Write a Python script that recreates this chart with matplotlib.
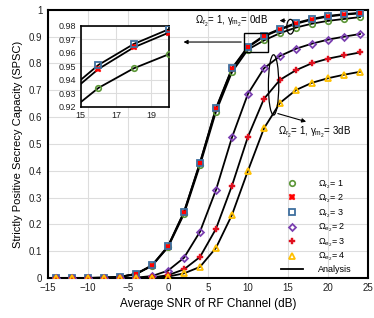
import matplotlib
matplotlib.use('Agg')
from matplotlib import pyplot as plt
from matplotlib.patches import Ellipse, Rectangle
from matplotlib.ticker import FuncFormatter

plt.rcParams['font.family'] = ['Liberation Sans', 'DejaVu Sans']
plt.rcParams['mathtext.fontset'] = 'custom'
plt.rcParams['mathtext.rm'] = 'Liberation Sans'
plt.rcParams['mathtext.it'] = 'Liberation Sans'

# average SNR of RF channel (dB)
snr = [-14, -12, -10, -8, -6, -4, -2, 0, 2, 4, 6, 8, 10, 12, 14, 16, 18, 20, 22, 24]

# gamma_m2 = 0 dB, Omega_e2 = 1
r1 = [0, 0, 0, 0.001, 0.004, 0.014, 0.045, 0.114, 0.238, 0.42, 0.62, 0.768, 0.852, 0.886, 0.913, 0.934, 0.9485, 0.959, 0.966, 0.973]
r2 = [0, 0, 0, 0.001, 0.004, 0.015, 0.046, 0.117, 0.244, 0.428, 0.63, 0.779, 0.860, 0.901, 0.926, 0.948, 0.964, 0.975, 0.982, 0.987]
r3 = [0, 0, 0, 0.001, 0.004, 0.015, 0.047, 0.118, 0.246, 0.43, 0.633, 0.782, 0.863, 0.904, 0.929, 0.951, 0.9665, 0.9775, 0.984, 0.989]
# gamma_m2 = 3 dB, Omega_r2 = 1
e2 = [0, 0, 0, 0, 0, 0.001, 0.007, 0.027, 0.075, 0.172, 0.328, 0.524, 0.687, 0.782, 0.828, 0.855, 0.874, 0.889, 0.900, 0.910]
e3 = [0, 0, 0, 0, 0, 0, 0.002, 0.010, 0.032, 0.078, 0.183, 0.344, 0.527, 0.668, 0.739, 0.775, 0.801, 0.818, 0.830, 0.841]
e4 = [0, 0, 0, 0, 0, 0, 0.001, 0.005, 0.017, 0.041, 0.112, 0.235, 0.40, 0.558, 0.653, 0.701, 0.728, 0.745, 0.758, 0.769]

series = [
    (r1, r'$\Omega_{r_2}$= 1', dict(marker='o', mec='#5b9637', mfc='none', mew=1.2, ms=4)),
    (r2, r'$\Omega_{r_2}$= 2', dict(marker='X', mec='#ff0000', mfc='#ff0000', mew=0.3, ms=4.5)),
    (r3, r'$\Omega_{r_2}$= 3', dict(marker='s', mec='#3f6f9e', mfc='none', mew=1.3, ms=4)),
    (e2, r'$\Omega_{e_2}$= 2', dict(marker='D', mec='#7a3fb0', mfc='none', mew=1.3, ms=3.5)),
    (e3, r'$\Omega_{e_2}$= 3', dict(marker='P', mec='#e0101e', mfc='#e0101e', mew=0.3, ms=5)),
    (e4, r'$\Omega_{e_2}$= 4', dict(marker='^', mec='#ffc000', mfc='none', mew=1.3, ms=4.5)),
]

fig = plt.figure(figsize=(3.74, 3.18), dpi=100)
ax = fig.add_axes([0.128, 0.126, 0.856, 0.843])

for y, lab, st in series:
    ax.plot(snr, y, '-', color='black', lw=1.3, zorder=2)
for y, lab, st in series:
    ax.plot(snr, y, ls='none', label=lab, zorder=3, **st)
ax.plot([], [], '-', color='black', lw=1.3, label='Analysis')

ax.set_xlim(-15, 25)
ax.set_ylim(0, 1)
ax.set_xticks(range(-15, 26, 5))
ax.set_yticks([i / 10 for i in range(11)])
ax.yaxis.set_major_formatter(FuncFormatter(lambda v, p: '%g' % v))
ax.tick_params(length=0, labelsize=7, colors='#222222', pad=4)
ax.grid(color='#dddddd', lw=0.8)
ax.set_axisbelow(True)
for s in ax.spines.values():
    s.set_linewidth(1.5)
ax.set_xlabel('Average SNR of RF Channel (dB)', fontsize=8.5, labelpad=3)
ax.set_ylabel('Strictly Positive Secrecy Capacity (SPSC)', fontsize=8, labelpad=4)

ax.legend(loc='lower left', bbox_to_anchor=(0.716, 0.0), borderaxespad=0, frameon=False,
          fontsize=6.5, handlelength=2.5, handletextpad=1.6, labelspacing=0.22)

# annotations
ax.add_patch(Ellipse((15.3, 0.937), 0.9, 0.055, fill=False, lw=0.9, zorder=4))
ax.annotate('', xy=(13.6, 0.96), xytext=(15.0, 0.96),
            arrowprops=dict(arrowstyle='-|>', color='black', lw=0.8, mutation_scale=6))
ax.text(7.9, 0.958, r'$\Omega_{r_2}$= 1, $\gamma_{m_2}$= 0dB', fontsize=7, ha='center', va='center')

ax.add_patch(Ellipse((13.2, 0.72), 1.3, 0.225, fill=False, lw=0.9, zorder=4))
ax.annotate('', xy=(17.6, 0.58), xytext=(13.4, 0.616),
            arrowprops=dict(arrowstyle='-|>', color='black', lw=0.8, mutation_scale=6))
ax.text(18.3, 0.543, r'$\Omega_{r_2}$= 1, $\gamma_{m_2}$= 3dB', fontsize=7, ha='center', va='center')

ax.add_patch(Rectangle((9.5, 0.843), 2.95, 0.071, fill=False, lw=1.0, zorder=4))
ax.annotate('', xy=(1.6, 0.88), xytext=(9.5, 0.88),
            arrowprops=dict(arrowstyle='-|>', color='black', lw=0.8, mutation_scale=6))

# zoomed inset
ins = fig.add_axes([0.216, 0.664, 0.236, 0.255])
for y, lab, st in series[:3]:
    ins.plot(snr, y, '-', color='black', lw=1.3, zorder=2)
for y, lab, st in series[:3]:
    ins.plot(snr, y, ls='none', zorder=3, **st)
ins.set_xlim(15, 20)
ins.set_ylim(0.92, 0.98)
ins.set_xticks([15, 17, 19])
ins.set_yticks([0.92, 0.93, 0.94, 0.95, 0.96, 0.97, 0.98])
ins.tick_params(length=0, labelsize=6.5, colors='#222222', pad=3)
ins.grid(color='#dddddd', lw=0.8)
ins.set_axisbelow(True)
for s in ins.spines.values():
    s.set_linewidth(1.2)

fig.savefig('out.png', dpi=100)
